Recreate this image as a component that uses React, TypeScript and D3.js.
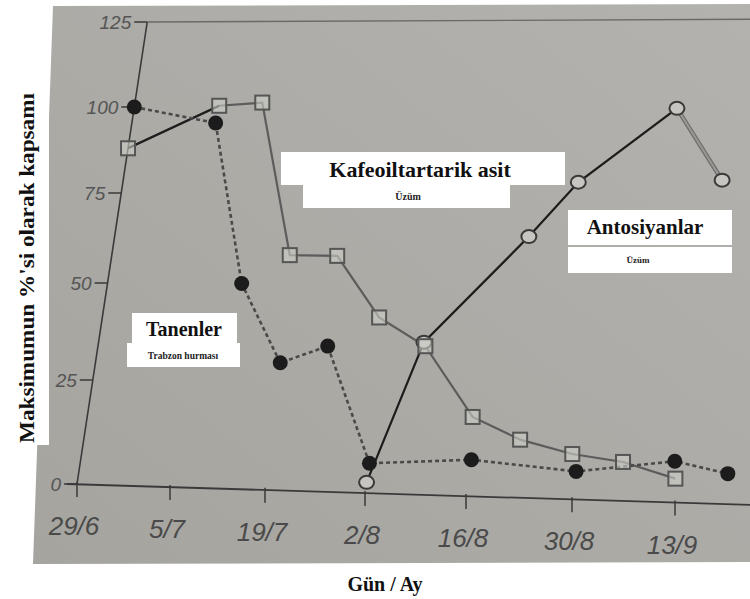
import React from "react";
import * as d3 from "d3";

// ---- data ----
const xTickLabels = ["29/6", "5/7", "19/7", "2/8", "16/8", "30/8", "13/9"];
const yTicks = [0, 25, 50, 75, 100, 125];

// Tanenler (Trabzon hurması) – filled circles, dashed line
const tanX = [0, 0.9, 1.43, 1.96, 2.41, 3, 4, 5, 5.94, 6.47];
const tanY = [100, 95.5, 50.5, 30.5, 35, 7, 8.5, 6.5, 9.5, 7];

// Kafeoiltartarik asit (Üzüm) – open squares
const kafeX = [0, 0.91, 1.36, 1.89, 2.37, 2.88, 3.38, 3.95, 4.43, 4.94, 5.44, 5.97];
const kafeY = [88, 100.5, 101.5, 58.5, 58.5, 42.5, 35.5, 18.5, 13.5, 10.5, 9, 5.5];

// Antosiyanlar (Üzüm) – open circles
const antoX = [3, 3.36, 4.23, 4.62, 5.46, 6.0];
const antoY = [2.5, 36.5, 64.5, 79.5, 100.5, 80.5];

const W = 750;
const H = 599;

export default function App() {
  // scales (tick positions slightly uneven, as in the photographed page)
  const xs = d3.scaleLinear().domain([0, 1, 2, 3, 4, 5, 6]).range([0, 93, 188, 288, 389, 495, 598]);
  const ys = d3.scaleLinear().domain([0, 25, 50, 75, 100, 125]).range([0, 104, 201, 291, 377, 462]);

  // the page is photographed at a slight angle: map plot coords to the picture
  const ox = 77, oy = 484, cTilt = 0.152, bTilt = 0.031, vTop = 462;
  const P = (u: number, v: number): [number, number] => [
    ox + u + cTilt * v,
    oy + bTilt * u - v * (1 + (bTilt * u) / vTop),
  ];
  const pt = (xi: number, val: number) => P(xs(xi), ys(val));

  const line = d3.line<[number, number]>().x((d) => d[0]).y((d) => d[1]);

  const tan = tanX.map((x, i) => pt(x, tanY[i]));
  const kafe = kafeX.map((x, i) => pt(x, kafeY[i]));
  const anto = antoX.map((x, i) => pt(x, antoY[i]));

  const uMax = 673;
  const xAxis0 = P(0, 0);
  const xAxis1 = P(uMax, 0);
  const yAxisTop = P(0, vTop);
  const topRight = P(uMax, vTop);

  const tickFont = "'Liberation Sans', Arial, sans-serif";
  const serif = "'Liberation Serif', 'Times New Roman', serif";

  return (
    <svg width={W} height={H} style={{ position: "absolute", left: 0, top: 0, background: "#fff" }}>
      <defs>
        <linearGradient id="bg" x1="0" y1="1" x2="1" y2="0">
          <stop offset="0" stopColor="#a5a49f" />
          <stop offset="1" stopColor="#b3b2ae" />
        </linearGradient>
      </defs>
      {/* photo area */}
      <polygon points="53,6 750,4 750,562 33,564" fill="url(#bg)" />
      {/* y-axis title box */}
      <rect x={0} y={0} width={49} height={445} fill="#fff" />
      <text
        transform={`translate(27,268) rotate(-90)`}
        textAnchor="middle"
        dominantBaseline="central"
        fontFamily={serif}
        fontWeight="bold"
        fontSize={20}
        textLength={350}
        lengthAdjust="spacingAndGlyphs"
        fill="#111"
      >
        Maksimumun %'si olarak kapsamı
      </text>

      {/* axes */}
      <line x1={xAxis0[0]} y1={xAxis0[1]} x2={yAxisTop[0]} y2={yAxisTop[1]} stroke="#3a3a3a" strokeWidth={1.6} />
      <line x1={xAxis0[0] - 10} y1={xAxis0[1]} x2={xAxis1[0]} y2={xAxis1[1]} stroke="#3a3a3a" strokeWidth={1.8} />
      <line x1={yAxisTop[0]} y1={yAxisTop[1]} x2={topRight[0]} y2={topRight[1] - 3} stroke="#6a6a6a" strokeWidth={1.4} />

      {yTicks.map((t) => {
        const [x, y] = P(0, ys(t));
        return (
          <g key={"yt" + t}>
            <line x1={x - 13} y1={y} x2={x} y2={y} stroke="#3a3a3a" strokeWidth={1.5} />
            <text
              x={x - 16}
              y={y}
              textAnchor="end"
              dominantBaseline="central"
              fontFamily={tickFont}
              fontStyle="italic"
              fontSize={19}
              fill="#555"
            >
              {t}
            </text>
          </g>
        );
      })}

      {xTickLabels.map((lab, i) => {
        const [x, y] = P(xs(i), 0);
        return (
          <g key={"xt" + i}>
            <line x1={x} y1={y - 2} x2={x} y2={y + 13} stroke="#3a3a3a" strokeWidth={1.5} />
            <text
              x={x - 3}
              y={y + 42}
              textAnchor="middle"
              dominantBaseline="central"
              fontFamily={tickFont}
              fontStyle="italic"
              fontSize={26}
              fill="#4a4a4a"
            >
              {lab}
            </text>
          </g>
        );
      })}

      {/* lines */}
      <path d={line(anto.slice(0, 5)) || ""} fill="none" stroke="#1c1c1c" strokeWidth={2.2} />
      <path d={line(anto.slice(4)) || ""} fill="none" stroke="#6e6e6e" strokeWidth={4.5} />
      <path d={line(anto.slice(4)) || ""} fill="none" stroke="#9a9995" strokeWidth={2} />
      <path d={line(kafe) || ""} fill="none" stroke="#5c5c5c" strokeWidth={2.2} />
      <path d={line(kafe.slice(0, 2)) || ""} fill="none" stroke="#1e1e1e" strokeWidth={2.2} />
      <path d={line(tan) || ""} fill="none" stroke="#4a4a4a" strokeWidth={2.6} strokeDasharray="4,3" />

      {/* markers */}
      {anto.map(([x, y], i) => (
        <ellipse key={"a" + i} cx={x} cy={y} rx={7.5} ry={6.5} fill="#c6c5c1" stroke="#3a3a3a" strokeWidth={2} />
      ))}
      {kafe.map(([x, y], i) => (
        <rect key={"k" + i} x={x - 7} y={y - 7} width={14} height={14} fill="#cfceca" fillOpacity={0.6} stroke="#555" strokeWidth={2} />
      ))}
      {tan.map(([x, y], i) => (
        <circle key={"t" + i} cx={x} cy={y} r={7.5} fill="#1c1c1c" />
      ))}

      {/* annotations */}
      <rect x={281} y={152} width={284} height={33} fill="#fff" />
      <rect x={303} y={185} width={207} height={23} fill="#fff" />
      <text x={420} y={177} textAnchor="middle" fontFamily={serif} fontWeight="bold" fontSize={22} fill="#111">
        Kafeoiltartarik asit
      </text>
      <text x={408} y={200} textAnchor="middle" fontFamily={serif} fontWeight="bold" fontSize={10} fill="#222">
        Üzüm
      </text>

      <rect x={568} y={210} width={164} height={35} fill="#fff" />
      <rect x={568} y={247} width={164} height={26} fill="#fff" />
      <text x={645} y={234} textAnchor="middle" fontFamily={serif} fontWeight="bold" fontSize={21} fill="#111">
        Antosiyanlar
      </text>
      <text x={638} y={263} textAnchor="middle" fontFamily={serif} fontWeight="bold" fontSize={9} fill="#222">
        Üzüm
      </text>

      <rect x={132} y={313} width={105} height={30} fill="#fff" />
      <rect x={127} y={343} width={113} height={24} fill="#fff" />
      <text x={184} y={336} textAnchor="middle" fontFamily={serif} fontWeight="bold" fontSize={20} fill="#111">
        Tanenler
      </text>
      <text x={183} y={359} textAnchor="middle" fontFamily={serif} fontWeight="bold" fontSize={9.5} fill="#222">
        Trabzon hurması
      </text>

      {/* x-axis title */}
      <text x={385} y={591} textAnchor="middle" fontFamily={serif} fontWeight="bold" fontSize={20} fill="#111">
        Gün / Ay
      </text>
    </svg>
  );
}
